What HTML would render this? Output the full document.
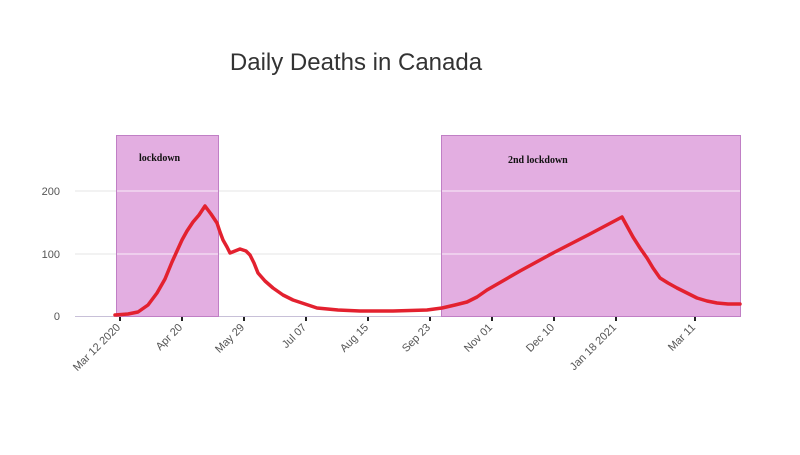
<!DOCTYPE html>
<html><head><meta charset="utf-8"><style>body{margin:0;background:#fff}</style></head>
<body>
<svg width="800" height="450" xmlns="http://www.w3.org/2000/svg" font-family="Liberation Sans, sans-serif">
<rect width="800" height="450" fill="#fff"/>
<text x="356" y="70" font-size="24" fill="#333" text-anchor="middle">Daily Deaths in Canada</text>
<g stroke="#e4e4e4" stroke-width="1">
<line x1="75" y1="191" x2="741" y2="191"/>
<line x1="75" y1="254" x2="741" y2="254"/>
</g>
<line x1="75" y1="316.5" x2="741" y2="316.5" stroke="#c8c0d8"/>
<g font-size="11" fill="#555" text-anchor="end">
<text x="60" y="195">200</text><text x="60" y="258">100</text><text x="60" y="320">0</text>
</g>
<rect x="116.5" y="135.5" width="102" height="181" fill="#e3aee1" stroke="#c07fc5"/>
<rect x="441.5" y="135.5" width="299" height="181" fill="#e3aee1" stroke="#c07fc5"/>
<g stroke="#fff" stroke-width="1" opacity="0.8">
<line x1="117" y1="191" x2="218" y2="191"/><line x1="117" y1="254" x2="218" y2="254"/>
<line x1="442" y1="191" x2="740" y2="191"/><line x1="442" y1="254" x2="740" y2="254"/>
</g>
<g font-family="Liberation Serif, serif" font-weight="bold" font-size="10" fill="#111">
<text x="139" y="161">lockdown</text>
<text x="508" y="163">2nd lockdown</text>
</g>
<polyline fill="none" stroke="#e3212f" stroke-width="3.5" stroke-linejoin="round" stroke-linecap="round" points="115,315 128,314 138,312 148,305 157,293 165,279 172,262 177,251 182,240 187,231 193,222 199,215 205,206 211,214 217,223 220,232 223,240 227,247 230,253 235,251 240,249 246,251 250,255 254,263 258,273 265,281 273,288 283,295 293,300 305,304 317,308 338,310 360,311 393,311 427,310 442,308 455,305 467,302 477,297 487,290 520,271 553,253 588,235 622,217 633,237 640,248 647,258 653,268 660,278 668,283 677,288 687,293 697,298 707,301 717,303 728,304 740,304"/>
<g stroke="#222" stroke-width="2">
<line x1="120" y1="317" x2="120" y2="321"/><line x1="182" y1="317" x2="182" y2="321"/><line x1="244" y1="317" x2="244" y2="321"/><line x1="306" y1="317" x2="306" y2="321"/><line x1="368" y1="317" x2="368" y2="321"/><line x1="430" y1="317" x2="430" y2="321"/><line x1="492" y1="317" x2="492" y2="321"/><line x1="554" y1="317" x2="554" y2="321"/><line x1="616" y1="317" x2="616" y2="321"/><line x1="695" y1="317" x2="695" y2="321"/>
</g>
<g font-size="11" fill="#555" text-anchor="end">
<text transform="translate(121,328) rotate(-45)">Mar 12 2020</text>
<text transform="translate(183,328) rotate(-45)">Apr 20</text>
<text transform="translate(245,328) rotate(-45)">May 29</text>
<text transform="translate(307,328) rotate(-45)">Jul 07</text>
<text transform="translate(369,328) rotate(-45)">Aug 15</text>
<text transform="translate(431,328) rotate(-45)">Sep 23</text>
<text transform="translate(493,328) rotate(-45)">Nov 01</text>
<text transform="translate(555,328) rotate(-45)">Dec 10</text>
<text transform="translate(617,328) rotate(-45)">Jan 18 2021</text>
<text transform="translate(696,328) rotate(-45)">Mar 11</text>
</g>
</svg>
</body></html>
